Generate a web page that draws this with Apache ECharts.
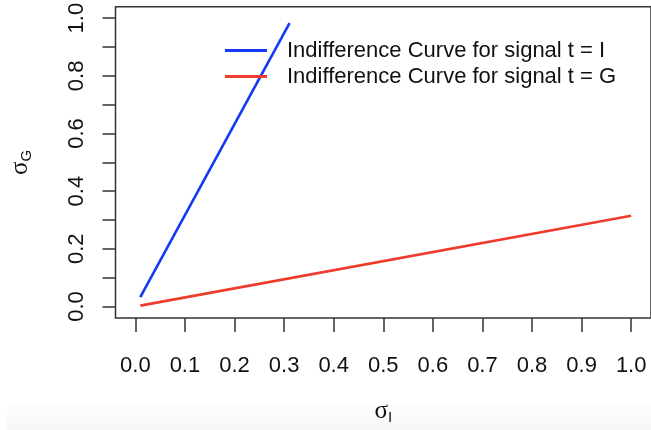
<!DOCTYPE html>
<html>
<head>
<meta charset="utf-8">
<script src="https://cdn.jsdelivr.net/npm/echarts@6/dist/echarts.min.js"></script>
<style>
  html, body { margin: 0; padding: 0; background: #fff; }
  #chart { width: 651px; height: 430px; }
</style>
</head>
<body>
<div id="chart"></div>
<script>
// data
var seriesNames = ['Indifference Curve for signal t = I', 'Indifference Curve for signal t = G'];
var curveI = [[0.01, 0.032], [0.311, 0.983]];
var curveG = [[0.01, 0.003], [1.0, 0.315]];
var xTicks = [0, 0.1, 0.2, 0.3, 0.4, 0.5, 0.6, 0.7, 0.8, 0.9, 1.0];
var yTicks = [0, 0.1, 0.2, 0.3, 0.4, 0.5, 0.6, 0.7, 0.8, 0.9, 1.0];
var yLabels = [0, 0.2, 0.4, 0.6, 0.8, 1.0];

var font = 'Liberation Sans, Arial, sans-serif';
var serif = 'Liberation Serif, Times New Roman, serif';

var nameRich = {
    s: { fontFamily: serif, fontSize: 25, color: '#111', lineHeight: 28, verticalAlign: 'middle' },
    sub: { fontFamily: font, fontSize: 15, color: '#111', lineHeight: 15, verticalAlign: 'bottom' }
};

var chart = echarts.init(document.getElementById('chart'));
var option = {
    animation: false,
    backgroundColor: '#fff',
    graphic: [{
        type: 'rect',
        z: -10,
        shape: { x: 7, y: 405, width: 644, height: 25 },
        style: {
            fill: new echarts.graphic.LinearGradient(0, 0, 0, 1, [
                { offset: 0, color: '#fdfdfd' },
                { offset: 1, color: '#f7f7f7' }
            ])
        }
    }],
    grid: {
        left: 113,
        top: 6,
        width: 543,
        height: 315,
        show: true,
        borderColor: '#333',
        borderWidth: 1.5,
        backgroundColor: 'transparent'
    },
    legend: {
        orient: 'vertical',
        left: 225,
        top: 39,
        padding: 0,
        icon: 'rect',
        itemWidth: 42,
        itemHeight: 3,
        itemGap: 3,
        textStyle: {
            fontFamily: font,
            fontSize: 22,
            lineHeight: 23,
            color: '#111',
            padding: [0, 0, 0, 15]
        },
        data: seriesNames
    },
    xAxis: {
        type: 'value',
        min: -0.04,
        max: 1.04,
        name: '{s|σ}{sub|I}',
        nameLocation: 'middle',
        nameGap: 79,
        nameTextStyle: { rich: nameRich },
        axisLine: { show: false, onZero: false },
        splitLine: { show: false },
        axisTick: {
            show: true,
            customValues: xTicks,
            length: 14,
            lineStyle: { color: '#333', width: 1.5 }
        },
        axisLabel: {
            customValues: xTicks,
            margin: 37,
            fontFamily: font,
            fontSize: 22,
            color: '#111',
            formatter: function (v) { return v.toFixed(1); }
        }
    },
    yAxis: {
        type: 'value',
        min: -0.04,
        max: 1.04,
        name: '{s|σ}{sub|G}',
        nameLocation: 'middle',
        nameRotate: 90,
        nameGap: 81,
        nameTextStyle: { rich: nameRich },
        axisLine: { show: false, onZero: false },
        splitLine: { show: false },
        axisTick: {
            show: true,
            customValues: yTicks,
            length: 13,
            lineStyle: { color: '#333', width: 1.5 }
        },
        axisLabel: {
            customValues: yLabels,
            rotate: 90,
            margin: 28,
            fontFamily: font,
            fontSize: 22,
            color: '#111',
            formatter: function (v) { return v.toFixed(1); }
        }
    },
    series: [{
        name: seriesNames[0],
        type: 'line',
        symbol: 'none',
        data: curveI,
        lineStyle: { color: '#1438f5', width: 2.6 },
        itemStyle: { color: '#1438f5' }
    }, {
        name: seriesNames[1],
        type: 'line',
        symbol: 'none',
        data: curveG,
        lineStyle: { color: '#ee3b2b', width: 2.6 },
        itemStyle: { color: '#ee3b2b' }
    }]
};
chart.setOption(option);
</script>
</body>
</html>
